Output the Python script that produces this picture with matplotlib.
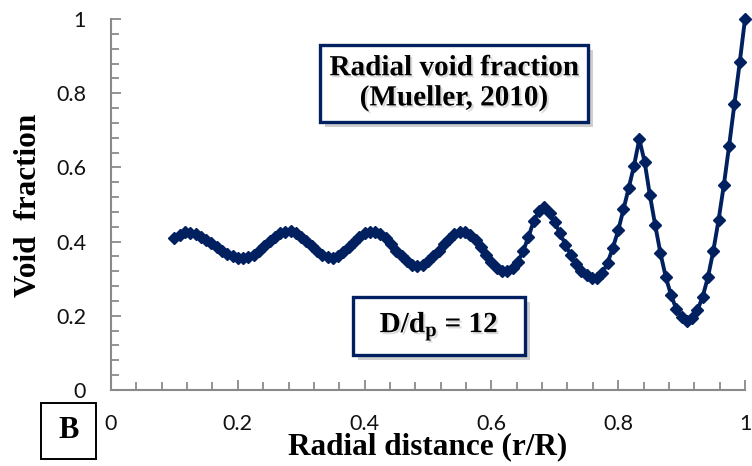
import matplotlib
matplotlib.use("Agg")
import matplotlib.pyplot as plt
from matplotlib.ticker import MultipleLocator, FixedLocator
from matplotlib.patches import Rectangle
import matplotlib.patheffects as pe

# ---------------- data ----------------
radial_distance = [
    0.1000, 0.1083, 0.1167, 0.1250, 0.1333, 0.1417, 0.1500, 0.1583, 0.1667, 0.1750, 0.1833, 0.1917,
    0.2000, 0.2083, 0.2167, 0.2250, 0.2333, 0.2417, 0.2500, 0.2583, 0.2667, 0.2750, 0.2833, 0.2917,
    0.3000, 0.3083, 0.3167, 0.3250, 0.3333, 0.3417, 0.3500, 0.3583, 0.3667, 0.3750, 0.3833, 0.3917,
    0.4000, 0.4083, 0.4167, 0.4250, 0.4333, 0.4417, 0.4500, 0.4583, 0.4667, 0.4750, 0.4833, 0.4917,
    0.5000, 0.5083, 0.5167, 0.5250, 0.5333, 0.5417, 0.5500, 0.5583, 0.5667, 0.5750, 0.5833, 0.5917,
    0.6000, 0.6083, 0.6167, 0.6250, 0.6333, 0.6417, 0.6500, 0.6583, 0.6667, 0.6750, 0.6833, 0.6917,
    0.7000, 0.7083, 0.7167, 0.7250, 0.7333, 0.7417, 0.7500, 0.7583, 0.7667, 0.7750, 0.7833, 0.7917,
    0.8000, 0.8083, 0.8167, 0.8250, 0.8333, 0.8417, 0.8500, 0.8583, 0.8667, 0.8750, 0.8833, 0.8917,
    0.9000, 0.9083, 0.9167, 0.9250, 0.9333, 0.9417, 0.9500, 0.9583, 0.9667, 0.9750, 0.9833, 0.9917,
    1.0000,
]
void_fraction = [
    0.410, 0.419, 0.425, 0.424, 0.420, 0.413, 0.405, 0.395, 0.385, 0.376, 0.367, 0.360,
    0.356, 0.355, 0.358, 0.365, 0.375, 0.388, 0.401, 0.413, 0.422, 0.427, 0.428, 0.423,
    0.413, 0.401, 0.387, 0.374, 0.364, 0.358, 0.357, 0.362, 0.372, 0.385, 0.399, 0.412,
    0.422, 0.427, 0.427, 0.421, 0.409, 0.393, 0.376, 0.360, 0.347, 0.338, 0.335, 0.338,
    0.347, 0.360, 0.376, 0.393, 0.408, 0.420, 0.426, 0.427, 0.419, 0.405, 0.386, 0.365,
    0.345, 0.330, 0.322, 0.322, 0.330, 0.346, 0.374, 0.412, 0.455, 0.482, 0.492, 0.478,
    0.452, 0.422, 0.392, 0.364, 0.340, 0.322, 0.310, 0.302, 0.302, 0.315, 0.343, 0.384,
    0.430, 0.487, 0.545, 0.605, 0.676, 0.615, 0.525, 0.445, 0.368, 0.305, 0.256, 0.218,
    0.196, 0.187, 0.193, 0.215, 0.252, 0.305, 0.375, 0.458, 0.553, 0.659, 0.771, 0.883,
    1.000,
]
x_tick_values = [0, 0.2, 0.4, 0.6, 0.8, 1]
x_tick_labels = ["0", "0.2", "0.4", "0.6", "0.8", "1"]
y_tick_values = [0, 0.2, 0.4, 0.6, 0.8, 1]
y_tick_labels = ["0", "0.2", "0.4", "0.6", "0.8", "1"]

x_label = "Radial distance (r/R)"
y_label = "Void  fraction"
title_box_text = "Radial void fraction\n(Mueller, 2010)"
ratio_box_text = r"D/d$_{\mathregular{p}}$ = 12"
panel_letter = "B"

# ---------------- styling ----------------
NAVY = "#002060"
GRAY = "#8a8a8a"
SERIF = ["Liberation Serif", "DejaVu Serif"]
TICKFONT = ["Lato", "DejaVu Sans"]
plt.rcParams["mathtext.fontset"] = "custom"
plt.rcParams["mathtext.rm"] = "Liberation Serif:bold"
plt.rcParams["mathtext.it"] = "Liberation Serif:bold"
plt.rcParams["mathtext.bf"] = "Liberation Serif:bold"

W, H = 752, 466
fig = plt.figure(figsize=(W / 100, H / 100), dpi=100)
ax = fig.add_axes([111 / W, (H - 390) / H, (745 - 111) / W, (390 - 19) / H])

ax.plot(radial_distance, void_fraction, color=NAVY, lw=2.8, marker="D",
        markersize=6.2, markerfacecolor=NAVY, markeredgecolor=NAVY, zorder=3,
        clip_on=False)

ax.set_xlim(0, 1)
ax.set_ylim(0, 1)

for s in ["top", "right"]:
    ax.spines[s].set_visible(False)
for s in ["left", "bottom"]:
    ax.spines[s].set_color(GRAY)
    ax.spines[s].set_linewidth(1.5)

ax.xaxis.set_major_locator(FixedLocator(x_tick_values))
ax.yaxis.set_major_locator(FixedLocator(y_tick_values))
ax.set_xticklabels(x_tick_labels)
ax.set_yticklabels(y_tick_labels)
ax.xaxis.set_minor_locator(MultipleLocator(0.04))
ax.yaxis.set_minor_locator(MultipleLocator(0.04))
ax.tick_params(axis="both", which="both", direction="in", color=GRAY, width=1.3)
ax.tick_params(axis="both", which="major", length=7.5)
ax.tick_params(axis="both", which="minor", length=6)
ax.tick_params(axis="x", which="major", pad=17)
ax.tick_params(axis="y", which="major", pad=18)
for lab in ax.get_xticklabels() + ax.get_yticklabels():
    lab.set_fontfamily(TICKFONT)
    lab.set_fontsize(15.5)
    lab.set_color("#111111")

ax.set_xlabel(x_label, fontfamily=SERIF, fontweight="bold", fontsize=22.5)
ax.set_ylabel(y_label, fontfamily=SERIF, fontweight="bold", fontsize=22.5)
ax.xaxis.label.set_va("center")
ax.xaxis.label.set_ha("center")
ax.xaxis.set_label_coords(0.5, (390 - 447) / 371)
ax.yaxis.label.set_va("center")
ax.yaxis.label.set_ha("center")
ax.yaxis.set_label_coords((28 - 111) / 634, (390 - 205) / 371)

shadow = [pe.SimplePatchShadow(offset=(3.5, -3.5), shadow_rgbFace="#777777", alpha=0.35), pe.Normal()]
text_shadow = [pe.SimplePatchShadow(offset=(1.5, -1.5), shadow_rgbFace="#999999", alpha=0.35), pe.Normal()]


def fig_box(x0, y0, x1, y1, ec, lw, with_shadow):
    r = Rectangle((x0 / W, (H - y1) / H), (x1 - x0) / W, (y1 - y0) / H,
                  transform=fig.transFigure, facecolor="white", edgecolor=ec,
                  linewidth=lw, zorder=5)
    if with_shadow:
        r.set_path_effects(shadow)
    fig.add_artist(r)


# title box
fig_box(320, 45, 588, 122, NAVY, 2.4, True)
fig.text(454 / W, (H - 83) / H, title_box_text, ha="center", va="center",
         fontfamily=SERIF, fontweight="bold", fontsize=21, linespacing=1.15,
         zorder=6, path_effects=text_shadow)

# D/dp box
fig_box(353, 297, 525, 355, NAVY, 2.4, True)
fig.text(439 / W, (H - 326) / H, ratio_box_text, ha="center", va="center",
         fontfamily=SERIF, fontweight="bold", fontsize=21, zorder=6,
         path_effects=text_shadow)

# panel letter box
fig_box(41, 403, 96, 459, "black", 1.4, False)
fig.text(68.5 / W, (H - 431) / H, panel_letter, ha="center", va="center",
         fontfamily=SERIF, fontweight="bold", fontsize=22, zorder=6)

fig.savefig("out.png", dpi=100)
